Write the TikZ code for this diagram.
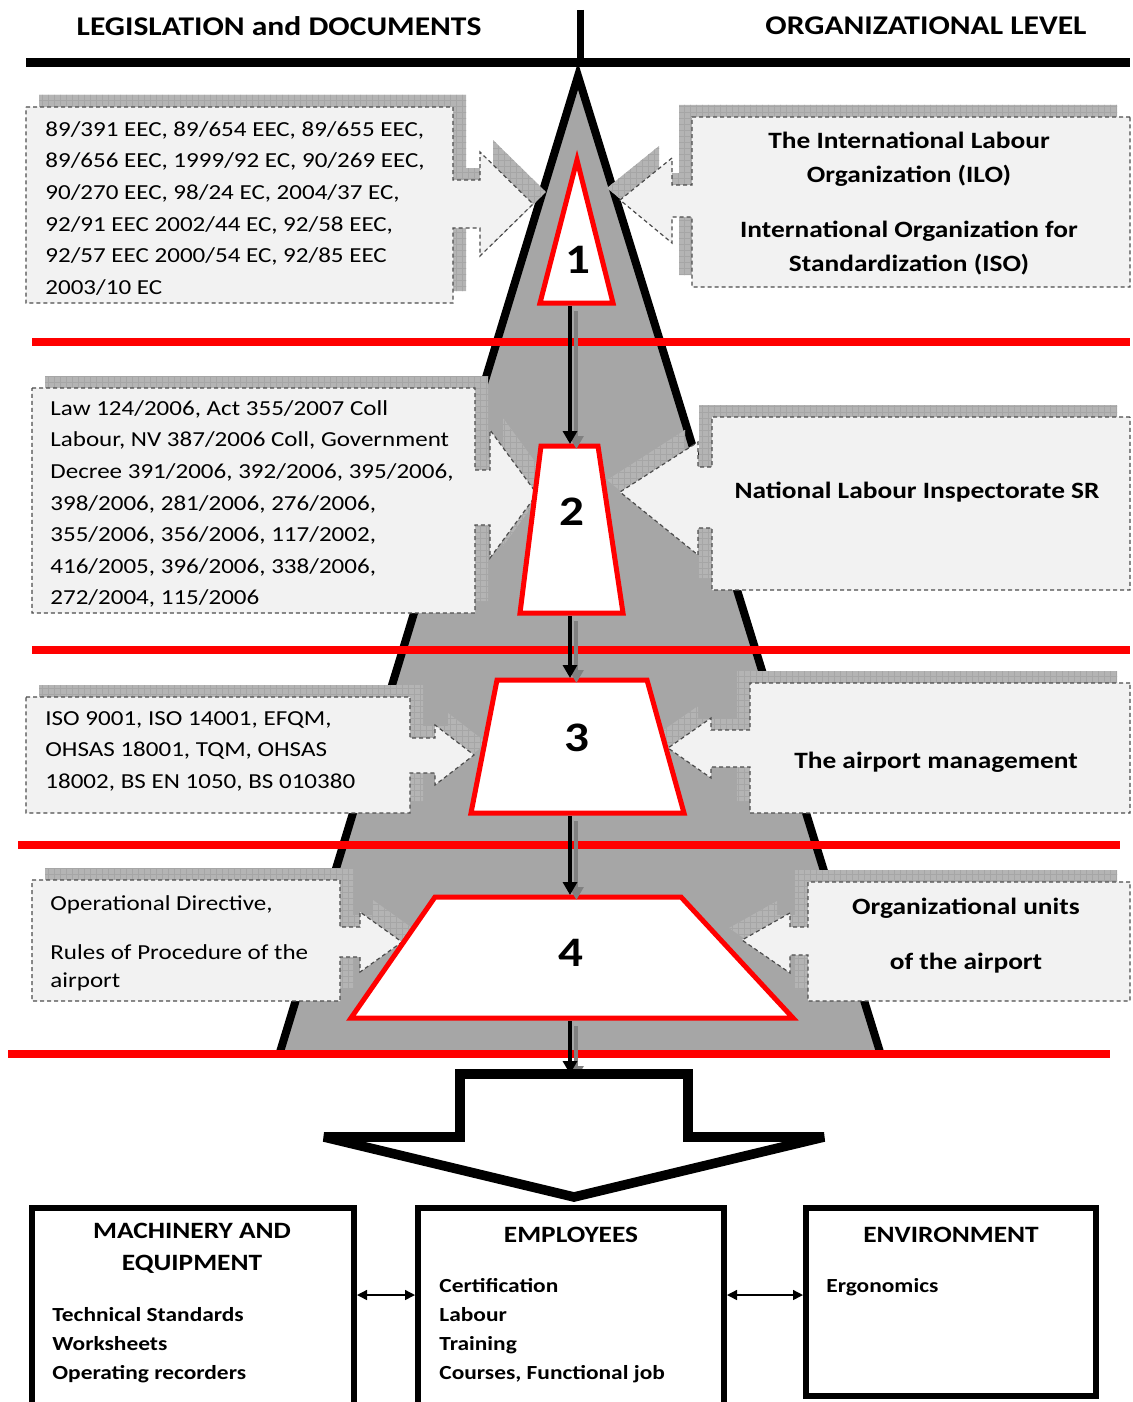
\documentclass[tikz,border=0pt]{standalone}
\usepackage{fontspec}
\setmainfont{Carlito}[FakeStretch=1.17]
\usetikzlibrary{arrows.meta,patterns}

\definecolor{boxgray}{HTML}{F2F2F2}
\definecolor{pyrgray}{HTML}{A6A6A6}
\definecolor{shadowgray}{HTML}{B4B4B4}

\tikzset{
  headtext/.style={font=\fontsize{13.5}{16}\selectfont\bfseries},
  redline/.style={draw=red,line width=4pt},
  levelshape/.style={draw=red,fill=white,line width=2.5pt},
  levelnum/.style={font=\fontsize{21}{24}\selectfont\bfseries},
  flow/.style={line width=2pt,-{Triangle[length=6.5pt,width=7pt]},
    preaction={draw=black!50,line width=2pt,transform canvas={xshift=3.2pt,yshift=-2.5pt}}},
  callout/.style={draw=black!70,fill=boxgray,line width=0.6pt,dash pattern=on 2pt off 1.5pt},
  lshadow/.style={preaction={fill=shadowgray,transform canvas={xshift=6.5pt,yshift=6pt}},
    preaction={pattern=grid,pattern color=black!35,transform canvas={xshift=6.5pt,yshift=6pt}}},
  rshadow/.style={preaction={fill=shadowgray,transform canvas={xshift=-6.5pt,yshift=6pt}},
    preaction={pattern=grid,pattern color=black!35,transform canvas={xshift=-6.5pt,yshift=6pt}}},
  lawtext/.style={anchor=north west,inner sep=0pt,align=left,font=\fontsize{10.7}{15.8}\selectfont},
  orgtext/.style={inner sep=0pt,align=center,font=\fontsize{11.7}{17}\selectfont\bfseries},
  bigbox/.style={draw,line width=3pt,inner sep=0pt},
  boxtitle/.style={inner sep=0pt,align=center,font=\fontsize{11.7}{16}\selectfont\bfseries},
  boxitems/.style={anchor=north west,inner sep=0pt,align=left,font=\fontsize{10}{14.5}\selectfont\bfseries},
}

\begin{document}
\begin{tikzpicture}[x=0.5pt,y=-0.5pt]
\useasboundingbox (0,0) rectangle (1132,1402);

% pyramid
\fill[pyrgray] (578,76) -- (880,1052) -- (280,1052) -- cycle;
\draw[line width=4pt] (280,1052) -- (578,76) -- (880,1052);

\draw[line width=4.5pt] (26,63) -- (1130,63);
\draw[line width=3.5pt] (580,10) -- (580,63);
\node[headtext] (legis) at (279,26) {LEGISLATION and DOCUMENTS};
\node[headtext] (orglev) at (926,26) {ORGANIZATIONAL LEVEL};

% callouts, left
\path[callout,lshadow] (26,107) -- (453,107) -- (453,180) -- (480,180) -- (480,152) -- (533,204)
  -- (480,256) -- (480,228) -- (453,228) -- (453,303) -- (26,303) -- cycle;
\path[callout,lshadow] (32,388) -- (475,388) -- (475,470) -- (490,470) -- (490,430) -- (537,494)
  -- (490,558) -- (490,525) -- (475,525) -- (475,613) -- (32,613) -- cycle;
\path[callout,lshadow] (26,697) -- (410,697) -- (410,738) -- (435,738) -- (435,725) -- (474,755)
  -- (435,785) -- (435,773) -- (410,773) -- (410,813) -- (26,813) -- cycle;
\path[callout,lshadow] (32,880) -- (340,880) -- (340,927) -- (360,927) -- (360,912) -- (402,942)
  -- (360,972) -- (360,957) -- (340,957) -- (340,1001) -- (32,1001) -- cycle;

% callouts, right
\path[callout,rshadow] (1130,117) -- (692,117) -- (692,185) -- (672,185) -- (672,158) -- (620,200)
  -- (672,243) -- (672,217) -- (692,217) -- (692,287) -- (1130,287) -- cycle;
\path[callout,rshadow] (1130,417) -- (712,417) -- (712,467) -- (698,467) -- (698,442) -- (620,492)
  -- (698,555) -- (698,528) -- (712,528) -- (712,590) -- (1130,590) -- cycle;
\path[callout,rshadow] (1130,683) -- (750,683) -- (750,730) -- (711,730) -- (711,718) -- (668,748)
  -- (711,778) -- (711,767) -- (750,767) -- (750,813) -- (1130,813) -- cycle;
\path[callout,rshadow] (1130,882) -- (808,882) -- (808,927) -- (790,927) -- (790,913) -- (742,940)
  -- (790,973) -- (790,955) -- (808,955) -- (808,1001) -- (1130,1001) -- cycle;

\node[lawtext] (eu) at (45,121) {89/391 EEC, 89/654 EEC, 89/655 EEC,\\89/656 EEC, 1999/92 EC, 90/269 EEC,\\90/270 EEC, 98/24 EC, 2004/37 EC,\\92/91 EEC 2002/44 EC, 92/58 EEC,\\92/57 EEC 2000/54 EC, 92/85 EEC\\2003/10 EC};
\node[lawtext] (slovak) at (50,400) {Law 124/2006, Act 355/2007 Coll\\Labour, NV 387/2006 Coll, Government\\Decree 391/2006, 392/2006, 395/2006,\\398/2006, 281/2006, 276/2006,\\355/2006, 356/2006, 117/2002,\\416/2005, 396/2006, 338/2006,\\272/2004, 115/2006};
\node[lawtext] (norms) at (45,711) {ISO 9001, ISO 14001, EFQM,\\OHSAS 18001, TQM, OHSAS\\18002, BS EN 1050, BS 010380};
\node[lawtext,font=\fontsize{10.7}{14}\selectfont] (intern) at (50,895) {Operational Directive,\\[10.5pt]Rules of Procedure of the\\airport};

\node[orgtext,anchor=north] (ilo) at (909,132) {The International Labour\\Organization (ILO)\\[10.5pt]International Organization for\\Standardization (ISO)};
\node[orgtext] (inspect) at (917,492) {National Labour Inspectorate SR};
\node[orgtext] (mgmt) at (936,762) {The airport management};
\node[orgtext,anchor=north] (units) at (966,898) {Organizational units\\[10.5pt]of the airport};

% level borders
\draw[redline] (32,342) -- (1130,342);
\draw[redline] (32,650) -- (1130,650);
\draw[redline] (18,845) -- (1120,845);
\draw[redline] (8,1054) -- (1110,1054);

% levels
\draw[levelshape] (577,160) -- (613,303) -- (540,303) -- cycle;
\draw[levelshape] (541,446) -- (598,446) -- (623,613) -- (520,613) -- cycle;
\draw[levelshape] (497,680) -- (647,680) -- (684,813) -- (471,813) -- cycle;
\draw[levelshape] (435,897) -- (681,897) -- (793,1018) -- (351,1018) -- cycle;
\node[levelnum] (lev1) at (578,260) {1};
\node[levelnum] (lev2) at (572,512) {2};
\node[levelnum] (lev3) at (577,738) {3};
\node[levelnum] (lev4) at (571,953) {4};

\coordinate (s1b) at (570,306);
\coordinate (s2t) at (570,444);
\coordinate (s2b) at (570,616);
\coordinate (s3t) at (570,678);
\coordinate (s3b) at (570,816);
\coordinate (s4t) at (570,895);
\coordinate (s4b) at (570,1021);
\coordinate (bigtop) at (570,1074);
\draw[flow] (s1b) -- (s2t);
\draw[flow] (s2b) -- (s3t);
\draw[flow] (s3b) -- (s4t);
\draw[flow] (s4b) -- (bigtop);

% big arrow
\draw[line width=4.8pt,miter limit=4] (460,1074) -- (688,1074) -- (688,1137) -- (824,1137) -- (574,1197)
  -- (324,1137) -- (460,1137) -- cycle;

% bottom boxes
\node[bigbox,minimum width=161pt,minimum height=101pt] (mach) at (193,1309) {};
\node[bigbox,minimum width=153pt,minimum height=101pt] (empl) at (571,1309) {};
\node[bigbox,minimum width=145pt,minimum height=94pt] (envi) at (951,1302) {};
\coordinate (linkrow) at (0,1295);
\draw[{Triangle[length=5pt,width=5pt]}-{Triangle[length=5pt,width=5pt]},line width=0.7pt] (mach.east |- linkrow) -- (empl.west |- linkrow);
\draw[{Triangle[length=5pt,width=5pt]}-{Triangle[length=5pt,width=5pt]},line width=0.7pt] (empl.east |- linkrow) -- (envi.west |- linkrow);

\node[boxtitle] (machT) at (192,1248) {MACHINERY AND\\EQUIPMENT};
\node[boxitems] (machL) at (52,1307) {Technical Standards\\Worksheets\\Operating recorders};
\node[boxtitle] (emplT) at (571,1235) {EMPLOYEES};
\node[boxitems] (emplL) at (439,1278) {Certification\\Labour\\Training\\Courses, Functional job};
\node[boxtitle] (enviT) at (951,1235) {ENVIRONMENT};
\node[boxitems] (enviL) at (826,1278) {Ergonomics};
\end{tikzpicture}
\end{document}
